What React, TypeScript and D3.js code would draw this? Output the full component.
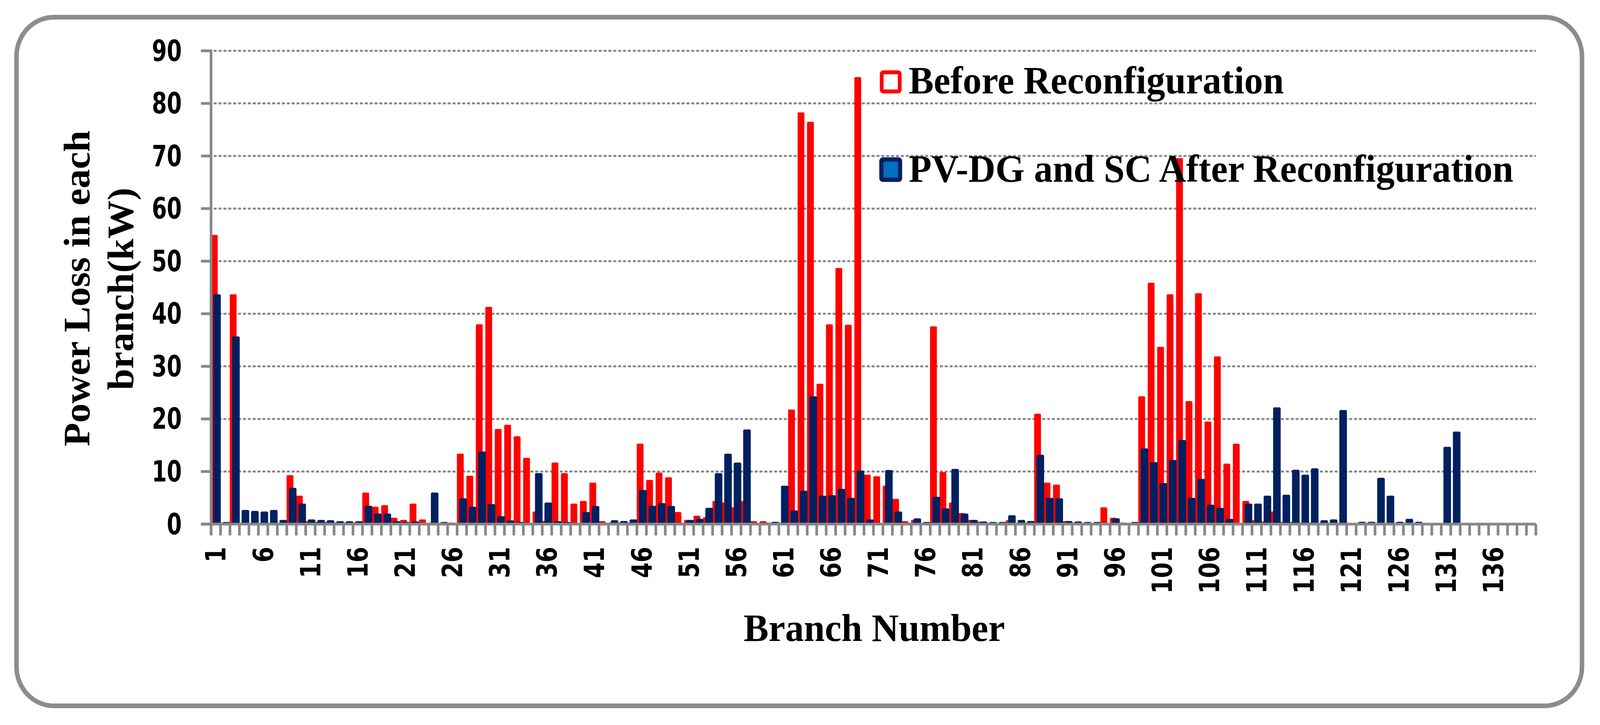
import * as React from "react";
import * as d3 from "d3";

// branch numbers on the x axis (140 slots, data up to 132)
const branches: number[] = d3.range(1, 141);
const tickLabels: number[] = d3.range(1, 141, 5);
const yTicks: number[] = [0, 10, 20, 30, 40, 50, 60, 70, 80, 90];

// Before Reconfiguration (kW)
const before: number[] = [
  55.0, 0.3, 43.7, 0.2, 0.2, 0.2, 0.2, 0.2, 9.3, 5.4,
  0.55, 0.4, 0.4, 0.3, 0.3, 0.3, 6.0, 3.3, 3.6, 1.2,
  0.8, 3.9, 0.9, 0.3, 0.2, 0.3, 13.4, 9.2, 38.0, 41.3,
  18.1, 18.9, 16.7, 12.6, 2.4, 0.6, 11.7, 9.7, 3.9, 4.4,
  7.9, 0.55, 0.3, 0.3, 0.3, 15.3, 8.4, 9.8, 8.9, 2.3,
  0.8, 1.6, 1.3, 4.4, 4.1, 3.2, 4.4, 0.55, 0.55, 0.3,
  0.2, 21.8, 78.3, 76.5, 26.7, 38.0, 48.7, 37.9, 85.0, 9.4,
  9.1, 7.3, 4.8, 0.55, 0.8, 0.2, 37.6, 9.9, 4.1, 2.1,
  0.8, 0.45, 0.2, 0.2, 0.75, 0.2, 0.3, 21.0, 7.9, 7.5,
  0.55, 0.3, 0.2, 0.2, 3.2, 1.2, 0.3, 0.1, 24.3, 45.9,
  33.7, 43.7, 69.6, 23.4, 43.9, 19.5, 31.9, 11.5, 15.3, 4.4,
  0.75, 0.5, 2.4, 0.4, 0.4, 0.3, 0.3, 0.1, 0.1, 0.1,
  0, 0, 0, 0, 0, 0, 0, 0, 0, 0,
  0, 0
];

// PV-DG and SC After Reconfiguration (kW)
const after: number[] = [
  43.7, 0.4, 35.7, 2.7, 2.5, 2.4, 2.7, 0.8, 6.9, 3.9,
  0.9, 0.8, 0.75, 0.55, 0.55, 0.55, 3.5, 2.0, 2.0, 0.55,
  0.4, 0.5, 0.1, 6.0, 0.4, 0.1, 4.9, 3.3, 13.8, 3.8,
  1.5, 0.7, 0.4, 0.1, 9.7, 4.1, 0.55, 0.4, 0.1, 2.3,
  3.45, 0.1, 0.75, 0.6, 0.9, 6.5, 3.5, 4.0, 3.45, 0.1,
  0.8, 1.0, 3.1, 9.7, 13.4, 11.7, 18.0, 0.1, 0.3, 0.45,
  7.3, 2.6, 6.35, 24.3, 5.4, 5.5, 6.7, 5.0, 10.2, 0.9,
  0.1, 10.3, 2.4, 0.1, 1.1, 0.4, 5.2, 3.0, 10.5, 2.0,
  0.8, 0.5, 0.4, 0.4, 1.7, 0.8, 0.6, 13.2, 5.0, 4.9,
  0.6, 0.5, 0.4, 0.4, 0, 1.1, 0, 0.4, 14.4, 11.8,
  7.8, 12.2, 16.0, 5.0, 8.6, 3.7, 3.1, 1.0, 0, 3.9,
  3.9, 5.4, 22.2, 5.6, 10.35, 9.4, 10.6, 0.75, 0.9, 21.7,
  0, 0.45, 0.45, 8.8, 5.4, 0.45, 1.0, 0.45, 0, 0,
  14.7, 17.6
];

const W = 4268;
const H = 1855;
const grey = "#878787";
const navy = "#002060";
const red = "#FF0000";
const serif = "'Liberation Serif', 'Times New Roman', serif";
const sans = "'DejaVu Sans', Verdana, sans-serif";

export default function App() {
  const x = d3.scaleBand<number>().domain(branches).range([563, 4097]).padding(0);
  const y = d3.scaleLinear().domain([0, 90]).range([1341, 130]);
  const bw = x.bandwidth();
  const y0 = y(0);

  return (
    <svg
      viewBox={`0 0 ${W} ${H}`}
      preserveAspectRatio="none"
      style={{
        position: "fixed",
        left: 0,
        top: 0,
        width: "100vw",
        height: "100vh",
        background: "#fff"
      }}
    >
      <rect
        x={44}
        y={44}
        width={4176}
        height={1762}
        rx={100}
        fill="#fff"
        stroke="#8c8c8c"
        strokeWidth={12}
      />

      {/* gridlines */}
      {yTicks.filter(t => t > 0).map(t => (
        <line
          key={"g" + t}
          x1={570}
          x2={4097}
          y1={y(t)}
          y2={y(t)}
          stroke={grey}
          strokeWidth={5}
          strokeDasharray="8 5"
        />
      ))}

      {/* bars */}
      {before.map((v, i) => (
        <rect
          key={"b" + i}
          x={(x(branches[i]) as number) - 0.02 * bw}
          y={y(v)}
          width={0.72 * bw}
          height={y0 - y(v) + 3}
          rx={3}
          fill={red}
        />
      ))}
      {after.map((v, i) => (
        <rect
          key={"a" + i}
          x={(x(branches[i]) as number) + 0.23 * bw}
          y={y(v)}
          width={0.8 * bw}
          height={y0 - y(v) + 3}
          rx={4}
          fill={navy}
        />
      ))}

      {/* axes */}
      <line x1={536} x2={4097} y1={y0} y2={y0} stroke={grey} strokeWidth={7} />
      <line x1={563} x2={563} y1={y(90) - 3} y2={1370} stroke={grey} strokeWidth={7} />
      {yTicks.map(t => (
        <line key={"yt" + t} x1={536} x2={563} y1={y(t)} y2={y(t)} stroke={grey} strokeWidth={7} />
      ))}
      {d3.range(0, branches.length + 1).map(k => {
        const xx = 563 + k * bw;
        return <line key={"xt" + k} x1={xx} x2={xx} y1={y0} y2={1370} stroke={grey} strokeWidth={7} />;
      })}

      {/* y tick labels */}
      {yTicks.map(t => (
        <text
          key={"yl" + t}
          x={485}
          y={y(t)}
          textAnchor="end"
          dominantBaseline="central"
          fontFamily={sans}
          fontWeight="bold"
          fontSize={74}
          textLength={String(t).length * 40}
          lengthAdjust="spacingAndGlyphs"
        >
          {t}
        </text>
      ))}

      {/* x tick labels */}
      {tickLabels.map(b => {
        const cx = (x(b) as number) + bw / 2;
        return (
          <text
            key={"xl" + b}
            transform={`translate(${cx},1399) rotate(-90)`}
            textAnchor="end"
            dominantBaseline="central"
            fontFamily={sans}
            fontWeight="bold"
            fontSize={75}
            textLength={String(b).length * 40}
            lengthAdjust="spacingAndGlyphs"
          >
            {b}
          </text>
        );
      })}

      {/* axis titles */}
      <text
        transform="translate(239,738) rotate(-90)"
        textAnchor="middle"
        fontFamily={serif}
        fontWeight="bold"
        fontSize={100}
        textLength={808}
        lengthAdjust="spacingAndGlyphs"
      >
        Power Loss in each
      </text>
      <text
        transform="translate(355,739) rotate(-90)"
        textAnchor="middle"
        fontFamily={serif}
        fontWeight="bold"
        fontSize={100}
        textLength={518}
        lengthAdjust="spacingAndGlyphs"
      >
        branch(kW)
      </text>
      <text
        x={2332}
        y={1640}
        textAnchor="middle"
        fontFamily={serif}
        fontWeight="bold"
        fontSize={100}
      >
        Branch Number
      </text>

      {/* legend */}
      <rect x={2352} y={185} width={48} height={49} rx={4} fill="#fff" stroke={red} strokeWidth={10} />
      <text x={2424} y={239} fontFamily={serif} fontWeight="bold" fontSize={100}>
        Before Reconfiguration
      </text>
      <rect x={2351} y={408} width={50} height={52} rx={4} fill="#0070C0" stroke={navy} strokeWidth={11} />
      <text x={2424} y={465} fontFamily={serif} fontWeight="bold" fontSize={100}>
        PV-DG and SC After Reconfiguration
      </text>
    </svg>
  );
}
